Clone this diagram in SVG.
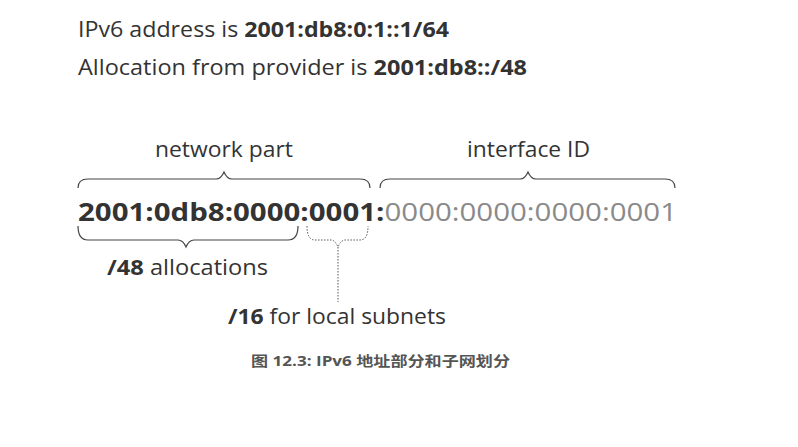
<svg xmlns="http://www.w3.org/2000/svg" width="798" height="447" viewBox="0 0 798 447">
<style>
text{font-family:"Open Sans","Noto Sans CJK SC",sans-serif;fill:#333}
.b{font-weight:bold}
.lt{fill:#8a8a8a;font-weight:normal}
.br{fill:none;stroke:#444;stroke-width:1.2}
.dot{fill:none;stroke:#555;stroke-width:1;stroke-dasharray:1.5 1.5}
.cap{font-size:14px;font-weight:bold;fill:#555}
</style>
<rect width="798" height="447" fill="#fff"/>
<g id="header">
<text x="78" y="37" font-size="21" textLength="371" lengthAdjust="spacingAndGlyphs">IPv6 address is <tspan class="b">2001:db8:0:1::1/64</tspan></text>
<text x="78" y="75" font-size="21" textLength="449" lengthAdjust="spacingAndGlyphs">Allocation from provider is <tspan class="b">2001:db8::/48</tspan></text>
</g>
<g id="network-part">
<text x="155" y="157" font-size="21" textLength="138" lengthAdjust="spacingAndGlyphs">network part</text>
</g>
<g id="interface-id">
<text x="467" y="157" font-size="21" textLength="123" lengthAdjust="spacingAndGlyphs">interface ID</text>
</g>
<g id="address">
<text x="78" y="221" font-size="25" class="b" textLength="599" lengthAdjust="spacingAndGlyphs">2001:0db8:0000:0001:<tspan class="lt">0000:0000:0000:0001</tspan></text>
</g>
<g id="alloc48">
<text x="107" y="275" font-size="21" textLength="161" lengthAdjust="spacingAndGlyphs"><tspan class="b">/48</tspan> allocations</text>
</g>
<g id="local16">
<text x="228" y="324" font-size="21" textLength="218" lengthAdjust="spacingAndGlyphs"><tspan class="b">/16</tspan> for local subnets</text>
</g>
<g id="caption">
<text x="251" y="366" class="cap" textLength="259" lengthAdjust="spacingAndGlyphs">图 12.3: IPv6 地址部分和子网划分</text>
</g>
<g id="connectors">
<path class="br" d="M78,188 Q78,179 88,179 L216,179 Q221,179 224,172 Q227,179 232,179 L360,179 Q370,179 370,188"/>
<path class="br" d="M380,188 Q380,179 390,179 L520,179 Q525,179 528,172 Q531,179 536,179 L665,179 Q675,179 675,188"/>
<path class="br" d="M78,226 Q78,240 88,240 L178,240 Q183,240 186,247 Q189,240 194,240 L288,240 Q298,240 298,226"/>
<path class="dot" d="M307,226 Q307,240 315,240 L331,240 Q335,240 338,247 Q341,240 345,240 L360,240 Q368,240 368,226"/>
<path class="dot" d="M338,247 L338,302"/>
</g>
</svg>
